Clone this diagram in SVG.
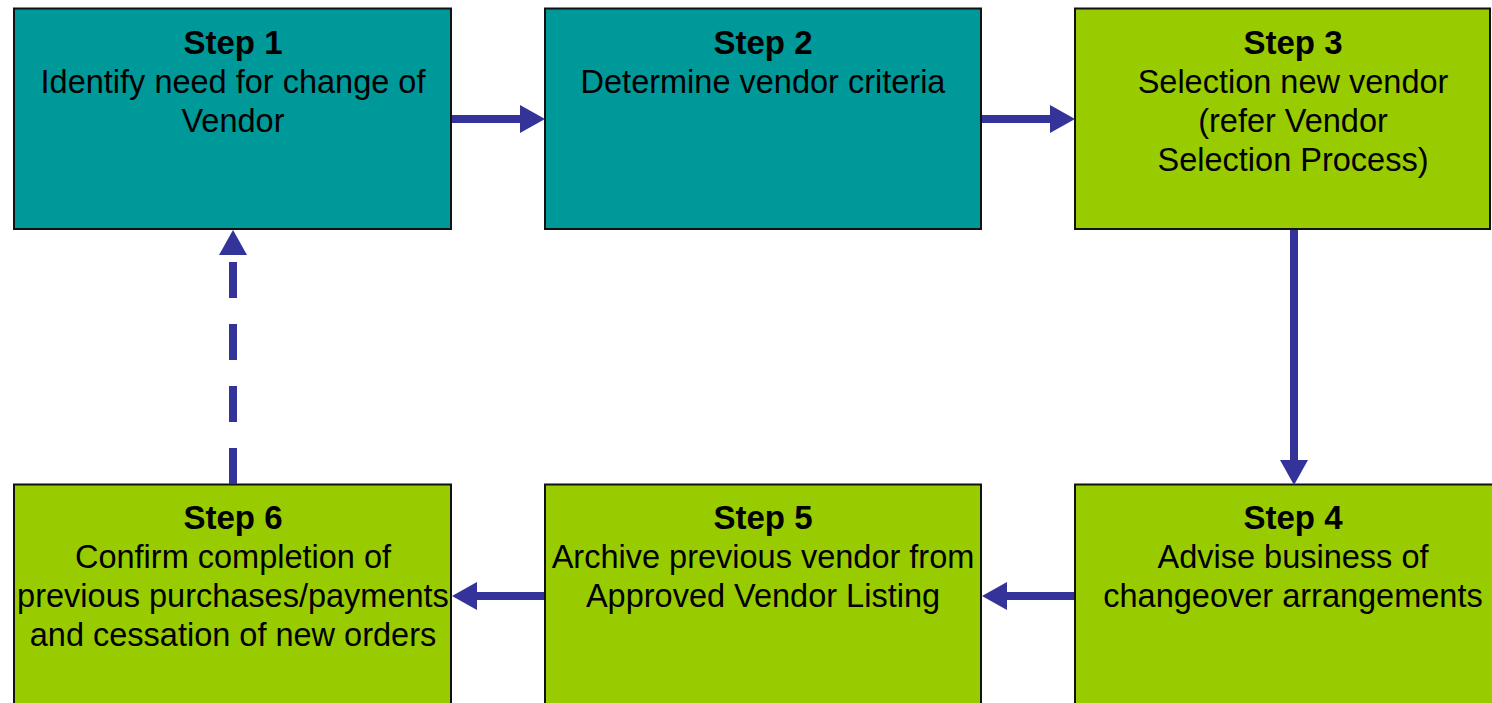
<svg xmlns="http://www.w3.org/2000/svg" width="1492" height="703" viewBox="0 0 1492 703">
  <style>
    .box { stroke: #111111; stroke-width: 2; }
    .teal { fill: #009999; }
    .green { fill: #99CC00; }
    text { font-family: "Liberation Sans", Arial, sans-serif; fill: #000000; text-anchor: middle; }
    .title { font-size: 33px; font-weight: bold; }
    .body { font-size: 32.5px; }
    .link { stroke: #333399; stroke-width: 8; fill: none; }
    .dashed { stroke-dasharray: 36 26; }
  </style>
  <defs>
    <marker id="head" markerUnits="userSpaceOnUse" markerWidth="26" markerHeight="28" refX="0" refY="14" orient="auto" viewBox="0 0 26 28">
      <path d="M0,0 L25,14 L0,28 Z" fill="#333399"/>
    </marker>
  </defs>

  <rect width="1492" height="703" fill="#ffffff"/>

  <g id="step1">
    <rect class="box teal" x="14" y="8.5" width="437" height="220.5"/>
    <text class="title" x="233" y="54">Step 1</text>
    <text class="body" x="233" y="93">Identify need for change of</text>
    <text class="body" x="233" y="132">Vendor</text>
  </g>

  <g id="step2">
    <rect class="box teal" x="545" y="8.5" width="436" height="220.5"/>
    <text class="title" x="763" y="54">Step 2</text>
    <text class="body" x="763" y="93">Determine vendor criteria</text>
  </g>

  <g id="step3">
    <rect class="box green" x="1075" y="8.5" width="415" height="220.5"/>
    <text class="title" x="1293" y="54">Step 3</text>
    <text class="body" x="1293" y="93">Selection new vendor</text>
    <text class="body" x="1293" y="132">(refer Vendor</text>
    <text class="body" x="1293" y="171">Selection Process)</text>
  </g>

  <g id="step4">
    <rect class="box green" x="1075" y="484.5" width="450" height="240"/>
    <text class="title" x="1293" y="529">Step 4</text>
    <text class="body" x="1293" y="568">Advise business of</text>
    <text class="body" x="1293" y="607">changeover arrangements</text>
  </g>

  <g id="step5">
    <rect class="box green" x="545" y="484.5" width="436" height="240"/>
    <text class="title" x="763" y="529">Step 5</text>
    <text class="body" x="763" y="568">Archive previous vendor from</text>
    <text class="body" x="763" y="607">Approved Vendor Listing</text>
  </g>

  <g id="step6">
    <rect class="box green" x="14" y="484.5" width="437" height="240"/>
    <text class="title" x="233" y="529">Step 6</text>
    <text class="body" x="233" y="568">Confirm completion of</text>
    <text class="body" x="233" y="607">previous purchases/payments</text>
    <text class="body" x="233" y="646">and cessation of new orders</text>
  </g>

  <g id="connectors">
    <line class="link" x1="452" y1="119" x2="520" y2="119" marker-end="url(#head)"/>
    <line class="link" x1="982" y1="119" x2="1050" y2="119" marker-end="url(#head)"/>
    <line class="link" x1="1294" y1="230" x2="1294" y2="460" marker-end="url(#head)"/>
    <line class="link" x1="1074" y1="596" x2="1007" y2="596" marker-end="url(#head)"/>
    <line class="link" x1="544" y1="596" x2="477" y2="596" marker-end="url(#head)"/>
    <line class="link dashed" x1="233" y1="484" x2="233" y2="255" marker-end="url(#head)"/>
  </g>
</svg>
